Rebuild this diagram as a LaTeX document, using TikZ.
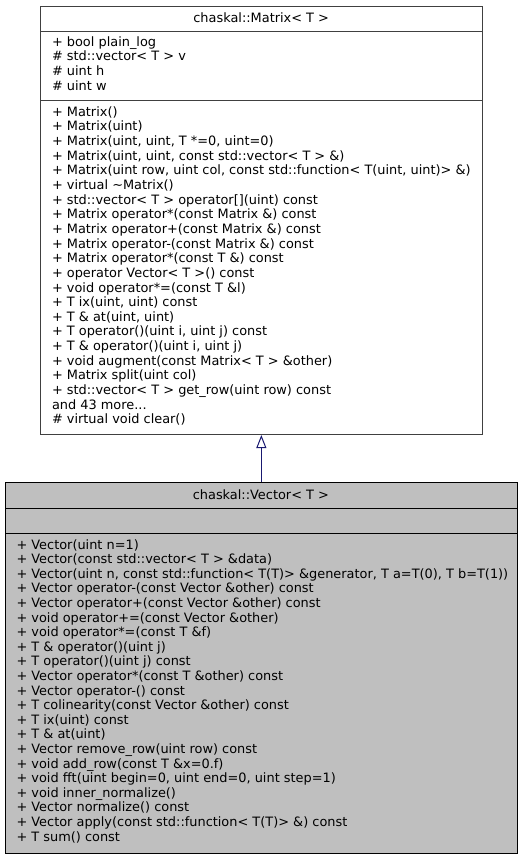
\documentclass[tikz,border=0pt]{standalone}
\usepackage{fontspec}
\setmainfont{DejaVu Sans}
\usetikzlibrary{arrows.meta}
\definecolor{edgeblue}{HTML}{191970}
\definecolor{curfill}{HTML}{BFBFBF}
\definecolor{bordergray}{HTML}{404040}
\newcommand{\mymoredots}{...}
\begin{document}
\begin{tikzpicture}[x=1pt,y=-1pt,line width=1pt,
  txt/.style={anchor=base west,inner sep=0pt,font=\fontsize{12.9}{14.6}\selectfont},
  ttl/.style={anchor=base,inner sep=0pt,font=\fontsize{12.9}{14.6}\selectfont},
  basebox/.style={draw=bordergray,fill=white,inner sep=0pt,anchor=north west},
  curbox/.style={draw=black,fill=curfill,inner sep=0pt,anchor=north west},
  inherit/.style={draw=edgeblue,-{Triangle[open,length=13pt,width=10pt,fill=white]}}]
\useasboundingbox (0,0) rectangle (523,859);
% Matrix box
\node[basebox,minimum width=442.3pt,minimum height=428.3pt] (matrix) at (40,5.7) {};
\draw[bordergray] (40,31.3) -- (482.3,31.3);
\draw[bordergray] (40,100) -- (482.3,100);
\node[ttl] (mtitle) at (261.2,22.5) {chaskal::Matrix< T >};
\foreach \t [count=\i from 0] in {
  {+ bool plain\_log},
  {\# std::vector< T > v},
  {\# uint h},
  {\# uint w}}
  \node[txt] (ma\i) at (51.5,{46.5+14.5*\i}) {\t};
\foreach \t [count=\i from 0] in {
  {+ Matrix()},
  {+ Matrix(uint)},
  {+ Matrix(uint, uint, T *=0, uint=0)},
  {+ Matrix(uint, uint, const std::vector< T > \&)},
  {+ Matrix(uint row, uint col, const std::function< T(uint, uint)> \&)},
  {+ virtual \textasciitilde Matrix()},
  {+ std::vector< T > operator[](uint) const},
  {+ Matrix operator*(const Matrix \&) const},
  {+ Matrix operator+(const Matrix \&) const},
  {+ Matrix operator-(const Matrix \&) const},
  {+ Matrix operator*(const T \&) const},
  {+ operator Vector< T >() const},
  {+ void operator*=(const T \&l)},
  {+ T ix(uint, uint) const},
  {+ T \& at(uint, uint)},
  {+ T operator()(uint i, uint j) const},
  {+ T \& operator()(uint i, uint j)},
  {+ void augment(const Matrix< T > \&other)},
  {+ Matrix split(uint col)},
  {+ std::vector< T > get\_row(uint row) const},
  {and 43 more\mymoredots},
  {\# virtual void clear()}}
  \node[txt] (mm\i) at (51.5,{116.2+14.65*\i}) {\t};
% Vector box
\node[curbox,minimum width=511.7pt,minimum height=370.4pt] (vector) at (5,482.3) {};
\draw[black] (5,508) -- (516.7,508);
\draw[black] (5,533) -- (516.7,533);
\node[ttl] (vtitle) at (260.9,499.5) {chaskal::Vector< T >};
\foreach \t [count=\i from 0] in {
  {+ Vector(uint n=1)},
  {+ Vector(const std::vector< T > \&data)},
  {+ Vector(uint n, const std::function< T(T)> \&generator, T a=T(0), T b=T(1))},
  {+ Vector operator-(const Vector \&other) const},
  {+ Vector operator+(const Vector \&other) const},
  {+ void operator+=(const Vector \&other)},
  {+ void operator*=(const T \&f)},
  {+ T \& operator()(uint j)},
  {+ T operator()(uint j) const},
  {+ Vector operator*(const T \&other) const},
  {+ Vector operator-() const},
  {+ T colinearity(const Vector \&other) const},
  {+ T ix(uint) const},
  {+ T \& at(uint)},
  {+ Vector remove\_row(uint row) const},
  {+ void add\_row(const T \&x=0.f)},
  {+ void fft(uint begin=0, uint end=0, uint step=1)},
  {+ void inner\_normalize()},
  {+ Vector normalize() const},
  {+ Vector apply(const std::function< T(T)> \&) const},
  {+ T sum() const}}
  \node[txt] (vm\i) at (16,{549+14.6*\i}) {\t};
% inheritance
\draw[inherit] (vector.north) -- (vector.north |- matrix.south);
\end{tikzpicture}
\end{document}
